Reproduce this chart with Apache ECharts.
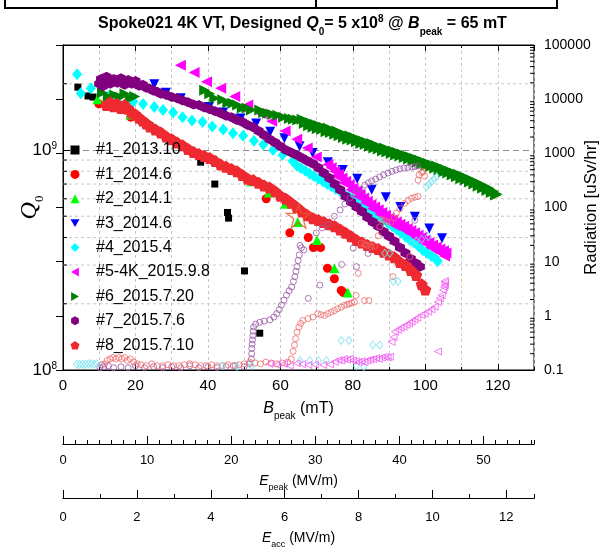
<!DOCTYPE html>
<html>
<head>
<meta charset="utf-8">
<script src="https://cdn.jsdelivr.net/npm/echarts@6/dist/echarts.min.js"></script>
<style>
html,body{margin:0;padding:0;background:#fff}
#main{width:605px;height:548px}
</style>
</head>
<body>
<div id="main"></div>
<script>
// Q0 vs Bpeak (mT) for each test
var s1_2013_10 = [[4.1,1.93e9],[6.9,1.76e9],[8.3,1.74e9],[24.0,1.29e9],[26.7,1.21e9],[35.8,9.8e8],[38.0,8.8e8],[41.9,7.0e8],[45.4,5.2e8],[45.7,4.9e8],[50.1,2.82e8],[54.3,1.47e8]];
var s1_2014_6 = [[9.9,1.62e9],[18.7,1.41e9],[56.1,6.0e8],[62.6,4.2e8],[67.7,4.0e8],[69.1,3.6e8],[71.1,3.6e8],[73.0,2.9e8],[74.9,2.6e8],[76.8,2.3e8],[77.4,2.25e8]];
var s2_2014_1 = [[9.5,1.70e9],[18.7,1.45e9],[42.3,9.0e8],[46.8,8.1e8],[52.0,7.2e8],[56.8,6.4e8],[61.3,5.7e8],[64.8,4.7e8],[70.1,3.9e8],[74.9,2.9e8],[78.6,2.25e8]];
var s3_2014_6 = [[25.2,1.99e9],[28.4,1.82e9],[32.5,1.72e9],[40.3,1.57e9],[44.2,1.48e9],[49.0,1.39e9],[53.3,1.32e9],[57.2,1.21e9],[61.1,1.13e9],[65.3,1.04e9],[68.9,9.7e8],[73.1,8.8e8],[77.2,8.1e8],[81.2,7.4e8],[85.2,6.6e8],[89.1,6.1e8],[93.1,5.5e8],[97.1,4.97e8],[101.1,4.4e8],[104.6,3.97e8]];
var s4_2015_4 = [[3.9,2.21e9],[4.9,1.81e9],[7.7,1.91e9],[12.6,1.76e9],[15.2,1.72e9],[19.4,1.66e9],[22.1,1.62e9],[25.2,1.57e9],[27.6,1.52e9],[30.4,1.48e9],[33.0,1.41e9],[35.6,1.36e9],[38.5,1.34e9],[41.2,1.28e9],[44.2,1.24e9],[46.9,1.19e9],[49.7,1.16e9],[52.7,1.10e9],[55.3,1.06e9],[58.0,1.0e9],[60.6,9.5e8],[63.4,8.9e8],
  [64.5,8.5e8],[65.7,8.25e8],[66.9,8.05e8],[68.1,7.8e8],[69.3,7.6e8],[70.5,7.4e8],[71.7,7.2e8],[72.9,7.0e8],[74.1,6.85e8],[75.3,6.65e8],[76.5,6.5e8],[77.7,6.3e8],[78.9,6.15e8],[80.1,5.95e8],[81.3,5.8e8],[82.5,5.6e8],[83.7,5.45e8],[84.9,5.3e8],[86.1,5.1e8],[87.3,4.95e8],[88.5,4.8e8],[89.7,4.65e8],[90.9,4.5e8],[92.1,4.35e8],[93.3,4.2e8],[94.5,4.05e8],[95.7,3.9e8],[96.9,3.8e8],[98.1,3.65e8],[99.3,3.5e8],[100.5,3.4e8],[101.7,3.3e8],[102.9,3.2e8],[103.4,3.12e8]];
var s5_2015_9_8 = [[32.4,2.43e9],[36.2,2.25e9],[39.6,2.04e9],[43.5,1.91e9],[47.4,1.75e9],[51.0,1.60e9],[54.7,1.46e9],[57.6,1.35e9],[61.3,1.22e9],[64.5,1.12e9],[67.4,1.02e9],[69.9,9.3e8],[73.1,8.6e8],
  [74,8.3e8],[75,8.0e8],[76,7.75e8],[77,7.45e8],[78,7.2e8],[79,6.95e8],[80,6.7e8],[81,6.5e8],[82,6.3e8],[83,6.05e8],[84,5.85e8],[85,5.65e8],[86,5.5e8],[87,5.35e8],[88,5.2e8],[89,5.05e8],[90,4.9e8],[91,4.8e8],[92,4.7e8],[93,4.6e8],[94,4.5e8],[95,4.4e8],[96,4.3e8],[97,4.2e8],[98,4.1e8],[99,4.0e8],[100,3.9e8],[101,3.8e8],[102,3.7e8],[103,3.62e8],[104,3.55e8],[105,3.48e8],[105.7,3.4e8],
  [75.5,7.6e8],[77.5,7.1e8],[79.5,6.6e8],[81.5,6.15e8],[83.5,5.75e8],[85.5,5.4e8],[87.5,5.1e8],[89.5,4.8e8],[91.5,4.55e8],[93.5,4.4e8],[95.5,4.2e8],[97.5,4.0e8],[99.5,3.8e8],[101.5,3.6e8],[103.5,3.45e8],[105.3,3.3e8]];
var s6_2015_7_20 = [[10.9,1.82e9],[12.5,1.75e9],[14.3,1.78e9],[15.8,1.74e9],[17.1,1.80e9],[18.6,1.72e9],[19.8,1.75e9],
  [39.1,1.87e9],[40.5,1.80e9],[41.9,1.72e9],[44.1,1.69e9],[45.5,1.64e9],[46.9,1.63e9],[48.2,1.60e9],[49.5,1.55e9],[50.8,1.55e9],[52.0,1.52e9],[54.3,1.52e9],[55.4,1.48e9],[56.5,1.47e9],[57.9,1.45e9],[59.3,1.44e9],[60.9,1.41e9],[62.5,1.39e9],[63.6,1.38e9],[64.8,1.37e9],
  [66,1.38e9],[66.6,1.32e9],[67.2,1.35e9],[67.8,1.29e9],[68.4,1.33e9],[69,1.27e9],[69.6,1.31e9],[70.2,1.25e9],[70.8,1.29e9],[71.4,1.24e9],[72,1.27e9],[72.6,1.21e9],[73.2,1.26e9],[73.8,1.2e9],[74.4,1.23e9],[75,1.18e9],[75.6,1.22e9],[76.2,1.16e9],[76.8,1.19e9],[77.4,1.14e9],[78,1.17e9],[78.6,1.12e9],[79.2,1.16e9],[79.8,1.11e9],[80.4,1.14e9],[81,1.09e9],[81.6,1.12e9],[82.2,1.07e9],[82.8,1.10e9],[83.4,1.06e9],[84,1.08e9],[84.6,1.04e9],[85.2,1.07e9],[85.8,1.02e9],[86.4,1.05e9],[87,1.01e9],[87.6,1.03e9],[88.2,9.9e8],[88.8,1.02e9],[89.4,9.8e8],[90,1.0e9],[90.6,9.65e8],[91.2,9.9e8],[91.8,9.5e8],[92.4,9.75e8],[93,9.4e8],[93.6,9.6e8],[94.2,9.25e8],[94.8,9.45e8],[95.4,9.1e8],[96,9.3e8],[96.6,8.95e8],[97.2,9.15e8],[97.8,8.8e8],[98.4,9.0e8],[99,8.65e8],[99.6,8.85e8],[100.2,8.5e8],[100.8,8.7e8],[101.4,8.4e8],[102,8.55e8],[102.6,8.25e8],[103.2,8.45e8],[103.8,8.1e8],[104.4,8.3e8],[105,7.95e8],[105.6,8.15e8],[106.2,7.85e8],[106.8,8.0e8],[107.4,7.7e8],[108,7.85e8],[108.6,7.55e8],[109.2,7.75e8],[109.8,7.4e8],[110.4,7.6e8],[111,7.3e8],[111.6,7.45e8],[112.2,7.15e8],[112.8,7.3e8],[113.4,7.0e8],[114,7.15e8],[114.6,6.85e8],[115.2,7.0e8],[115.8,6.7e8],[116.4,6.85e8],[117,6.55e8],[117.6,6.7e8],[118.2,6.4e8],[118.8,6.5e8],[119.4,6.25e8],[119.8,6.3e8]];
var s7_2015_7_6 = [[10,2.0e9],[10.5,2.1e9],[11,1.95e9],[11.5,2.05e9],[12,2.15e9],[13,2.0e9],[14,2.1e9],[15,2.02e9],[16,2.12e9],[17,1.98e9],[18,2.08e9],[19,2.0e9],[20,2.06e9],[21,1.96e9],[22,1.98e9],[23,1.92e9],[24,1.9e9],[25,1.86e9],[26,1.84e9],[27,1.8e9],[28.5,1.78e9],[30,1.74e9],[31.5,1.72e9],[33,1.68e9],[34.5,1.65e9],[36,1.61e9],[37.5,1.6e9],[39,1.56e9],[40.5,1.53e9],[42,1.5e9],[43.5,1.47e9],[45,1.43e9],[46.5,1.41e9],[48,1.37e9],[49.5,1.34e9],[51,1.3e9],[52.5,1.27e9],[54,1.22e9],[55.5,1.17e9],[57,1.12e9],[58.5,1.08e9],[60,1.04e9],[61.5,1.0e9],[63,9.75e8],[64.5,9.5e8],[66,9.2e8],[67.5,8.9e8],[69,8.65e8],[70.5,8.3e8],[72,7.85e8],[73.5,7.45e8],[75,7.0e8],[76.5,6.6e8],[78,6.15e8],[79.5,5.8e8],[81,5.5e8],[82.5,5.25e8],[84,4.95e8],[85.5,4.7e8],[87,4.5e8],[88.5,4.25e8],[90,4.05e8],[91.5,3.85e8],[93,3.6e8],[94.5,3.4e8],[96,3.2e8],[97.5,3.05e8],[98.5,2.95e8]];
var s8_2015_7_10 = [[12,1.6e9],[13,1.65e9],[14,1.58e9],[15,1.62e9],[16,1.55e9],[17,1.6e9],[18,1.54e9],[19,1.48e9],[20,1.45e9],[21,1.4e9],[22,1.36e9],[23,1.32e9],[24,1.28e9],[25.5,1.24e9],[27,1.2e9],[28.5,1.15e9],[30,1.12e9],[31.5,1.08e9],[33,1.05e9],[34.5,1.01e9],[36,9.8e8],[37.5,9.6e8],[39,9.4e8],[40.5,9.2e8],[42,8.9e8],[43.5,8.6e8],[45,8.4e8],[46.5,8.2e8],[48,8.0e8],[49.5,7.7e8],[51,7.4e8],[52.5,7.3e8],[54,7.1e8],[55.5,6.9e8],[57,6.75e8],[58.5,6.5e8],[60,6.2e8],[61.5,6.0e8],[63,5.75e8],[64.5,5.5e8],[66,5.25e8],[67.5,5.05e8],[69,4.9e8],[70.5,4.8e8],[72,4.7e8],[73.5,4.6e8],[75,4.5e8],[76.5,4.35e8],[78,4.2e8],[79.5,4.05e8],[81,3.9e8],[82.5,3.8e8],[84,3.7e8],[85.5,3.62e8],[87,3.55e8],[88.5,3.45e8],[90,3.35e8],[91.5,3.25e8],[93,3.1e8],[94.5,3.0e8],[96,2.85e8],[97.5,2.7e8],[99,2.45e8],[100,2.32e8]];
var designPoint = [[65,5e8]];

// radiation (uSv/hr) vs Bpeak (mT)
var r7_2015_7_6 = [[10.2,0.11],[10.6,0.125],[11.2,0.115],[12.5,0.12],[14,0.11],[16,0.115],[18,0.11],[20,0.12],[22.5,0.11],[25,0.115],[27.5,0.11],[30,0.115],[32.5,0.11],[35,0.12],[37.5,0.11],[40,0.115],[42.5,0.11],[45,0.115],[47.5,0.12],[50,0.115],[51.5,0.13],
  [52,0.16],[52.1,0.2],[52.1,0.25],[52.2,0.3],[52.3,0.36],[52.4,0.43],[52.5,0.52],[52.6,0.62],[53.2,0.7],[54.3,0.76],[55.5,0.8],[57.1,0.84],[58.2,0.95],[59,1.1],[59.7,1.3],[60.3,1.58],[61,1.95],[61.7,2.4],[62.4,2.9],[63.1,3.4],[63.6,4.3],[64,5.3],[64.3,6.6],[64.6,8.1],[64.9,10.5],[65.2,13.3],[65.4,20],
  [65.8,18],[66.5,16.5],[67.7,2.1],[70.9,3.7],[76.9,8.9],[81,8.1],[80.1,17.8],[84.2,14.2],[97.1,58],
  [69.9,34],[71.5,42],[73.1,49],[74.9,69],[76.5,90],[77.8,116],[79.2,150],[80.6,185],[81.9,219],[83.3,260],[84.3,285],[85.2,308],[86.3,335],[87.4,366],[88.5,400],[89.7,433],[90.8,465],[91.9,492],[93,515],[94.1,536],[95.2,548],[96.3,559],[97.1,570],[97.9,583]];
var r8_2015_7_10 = [[11.5,0.13],[12.2,0.15],[13,0.16],[13.8,0.17],[14.6,0.16],[15.4,0.17],[16.2,0.16],[17,0.17],[17.8,0.15],[18.6,0.16],[19.5,0.14],[20.5,0.13],[21.5,0.125],[23,0.12],[24.5,0.13],[26,0.12],[27.5,0.12],[29,0.125],[30.5,0.12],[32,0.12],[33.5,0.125],[35,0.13],[36.5,0.125],[38,0.12],[39.5,0.12],[41,0.125],[42.5,0.12],[44,0.12],[45.5,0.125],[47,0.12],[48.5,0.125],[50,0.13],[51.5,0.14],[53,0.135],[54.5,0.13],[56,0.14],[57.5,0.135],[59,0.13],[60.5,0.135],[62,0.14],[63,0.16],
  [63.5,0.22],[63.9,0.29],[64.2,0.38],[64.6,0.5],[65.1,0.62],[65.6,0.72],[66.2,0.82],[67.6,0.89],[69,0.95],[70.3,1.09],[71.2,1.05],[72.2,1.02],[73.1,1.1],[74,1.17],[74.9,1.25],[75.8,1.35],[76.8,1.45],[77.7,1.56],[78.4,1.62],[79,1.67],[79.7,1.72],[80.4,1.8],[80.9,2.38],[83.2,1.92],[84.4,1.92],
  [81.5,6.1],[82.3,22],[83.2,21],[84,20],[85,19],[86,19.5],[87,30],[87.4,44],[87.8,60],[88.6,58],[89.4,55],[90.5,53],[91.4,65],[92,78],[93,95],[94.3,119],[95.2,135],[96.2,148],[97.1,155],[98,160],[98,320],[98.3,400],[99,440],[99.4,460],[99.8,380],[91.1,5.3],[95.7,12.3]];
var r4_2015_4 = [[3.8,0.127],[4.6,0.127],[5.4,0.127],[6.2,0.127],[7,0.13],[7.8,0.13],[8.6,0.127],[9.3,0.13],[44,0.12],[48,0.115],[52,0.12],[65.4,0.15],[68.1,0.15],[70.5,0.15],[72.7,0.15],[81,0.12],[83,0.115],
  [76.8,0.35],[78.9,0.35],[85.5,0.29],[87.4,0.29],[91.1,4.3],[92.5,4.3],[88.8,14.3],[90.2,14.3],[96.2,21.8],[97.5,24],[99,26],[100.8,29],[100.3,242],[101,270],[101.7,299],[102.4,335],[103.1,370]];
var r5_2015_9_8 = [[57,0.13],[59,0.125],[61,0.13],[62.6,0.12],[64.5,0.133],[66,0.128],[67.7,0.124],[69.5,0.127],[71.8,0.124],[73.7,0.127],[75,0.142],[76,0.153],[76.8,0.15],[77.6,0.16],[78.4,0.155],[79.2,0.16],[80,0.15],[80.8,0.145],[81.6,0.14],[82.4,0.145],[83.2,0.14],[84,0.15],[84.8,0.155],[85.6,0.16],[86.4,0.165],[87.2,0.16],[88,0.17],[88.8,0.175],[89.6,0.17],[90.2,0.176],
  [90.7,0.33],[91.2,0.4],[91.6,0.51],[92.4,0.55],[93.2,0.6],[94,0.63],[94.8,0.68],[95.5,0.73],[96.2,0.78],[97,0.85],[97.8,0.92],[98.9,1.03],[99.8,1.1],[100.8,1.19],[101.7,1.32],[102.6,1.47],[103.5,1.8],[104,2.1],[104.5,2.4],[104.9,3.0],[105.2,3.4],[105.4,3.7],[105.4,4.1],[105.4,4.4],[103.5,0.22]];

// axis ticks
var q0MinorTicks = [2e8,3e8,4e8,5e8,6e8,7e8,8e8,9e8,2e9];
var radMinorTicks = [];
[0.1,1,10,100,1000,10000].forEach(function (d) {
  for (var k = 2; k <= 9; k++) radMinorTicks.push(d * k);
});

var FONT = 'Liberation Sans';
var HEX = 'path://M0,-10L8.66,-5L8.66,5L0,10L-8.66,5L-8.66,-5Z';
var PENT = 'path://M0,-10L9.51,-3.09L5.88,8.09L-5.88,8.09L-9.51,-3.09Z';
var STAR = 'path://M0,-10L2.245,-3.09L9.51,-3.09L3.633,1.18L5.878,8.09L0,3.82L-5.878,8.09L-3.633,1.18L-9.51,-3.09L-2.245,-3.09Z';
var TRI_DOWN = 'path://M-10,-8.66L10,-8.66L0,8.66Z';
var TRI_LEFT = 'path://M-8.66,0L8.66,-10L8.66,10Z';
var TRI_RIGHT = 'path://M8.66,0L-8.66,-10L-8.66,10Z';

var myChart = echarts.init(document.getElementById('main'));

function filled(name, data, symbol, size, color) {
  return {
    name: name, type: 'scatter', xAxisIndex: 0, yAxisIndex: 0,
    data: data, symbol: symbol, symbolSize: size,
    itemStyle: { color: color, opacity: 1 }, silent: true
  };
}
function open(name, data, symbol, size, color) {
  return {
    name: name, type: 'scatter', xAxisIndex: 0, yAxisIndex: 1,
    data: data, symbol: symbol, symbolSize: size,
    itemStyle: { color: 'rgba(255,255,255,0)', borderColor: color, borderWidth: 1 }, silent: true
  };
}

var nameRich = {
  i: { fontFamily: FONT, fontStyle: 'italic', fontSize: 16, color: '#000' },
  s: { fontFamily: FONT, fontSize: 10, color: '#000', verticalAlign: 'bottom', lineHeight: 25 },
  n: { fontFamily: FONT, fontSize: 16, color: '#000' }
};
var smallRich = {
  i: { fontFamily: FONT, fontStyle: 'italic', fontSize: 14, color: '#000' },
  s: { fontFamily: FONT, fontSize: 9, color: '#000', verticalAlign: 'bottom', lineHeight: 22 },
  n: { fontFamily: FONT, fontSize: 14, color: '#000' }
};

function xAx(grid, pos, max, interval, len, extra) {
  var a = {
    type: 'value', gridIndex: grid, position: pos, min: 0, max: max, interval: interval,
    axisLine: { show: true, onZero: false, lineStyle: { color: '#000', width: 1 } },
    axisTick: { show: true, inside: true, length: len, lineStyle: { color: '#000' } },
    axisLabel: { show: false },
    splitLine: { show: false }
  };
  for (var k in extra) a[k] = extra[k];
  return a;
}

var option = {
  animation: false,
  backgroundColor: '#fff',
  title: {
    left: 'center', top: 6,
    text: '{t|Spoke021 4K VT, Designed }{q|Q}{s|0}{t|= 5 x10}{p|8}{t| @ }{q|B}{s|peak}{t| = 65 mT}',
    textStyle: {
      rich: {
        t: { fontFamily: FONT, fontWeight: 'bold', fontSize: 16, color: '#000' },
        q: { fontFamily: FONT, fontWeight: 'bold', fontStyle: 'italic', fontSize: 16, color: '#000' },
        s: { fontFamily: FONT, fontWeight: 'bold', fontSize: 10, color: '#000', verticalAlign: 'bottom', lineHeight: 26 },
        p: { fontFamily: FONT, fontWeight: 'bold', fontSize: 10, color: '#000', verticalAlign: 'top', padding: [3, 0, 0, 0] }
      }
    }
  },
  graphic: [
    { type: 'polyline', shape: { points: [[5, 0], [5, 8], [557, 8], [557, 0]] }, style: { stroke: '#000', lineWidth: 2, fill: null } },
    { type: 'line', shape: { x1: 316, y1: 0, x2: 316, y2: 8 }, style: { stroke: '#000', lineWidth: 2 } }
  ],
  legend: {
    orient: 'vertical', left: 65.5, top: 137,
    itemWidth: 9, itemHeight: 9, itemGap: 8.4,
    selectedMode: false,
    textStyle: { fontFamily: FONT, fontSize: 16, color: '#000', lineHeight: 16, padding: [0, 0, 0, 11.5] },
    data: ['#1_2013.10', '#1_2014.6', '#2_2014.1', '#3_2014.6', '#4_2015.4', '#5-4K_2015.9.8', '#6_2015.7.20', '#7_2015.7.6', '#8_2015.7.10']
  },
  grid: [
    { left: 63, top: 45, width: 471, height: 325, outerBoundsMode: 'none', containLabel: false, show: true, borderColor: '#000', borderWidth: 1, backgroundColor: 'transparent' },
    { left: 63, top: 443, width: 471, height: 1, outerBoundsMode: 'none', containLabel: false },
    { left: 63, top: 497, width: 471, height: 1, outerBoundsMode: 'none', containLabel: false }
  ],
  xAxis: [
    xAx(0, 'bottom', 130, 20, 6, {
      axisLabel: { show: true, fontFamily: FONT, fontSize: 15, color: '#000', margin: 8, showMaxLabel: false },
      name: '{i|B}{s|peak}{n| (mT)}', nameLocation: 'middle', nameGap: 26,
      nameTextStyle: { rich: nameRich }
    }),
    xAx(0, 'bottom', 130, 10, 3, {
      splitLine: { show: true, lineStyle: { color: '#c8c8c8', type: [3, 3], width: 1 } }
    }),
    xAx(0, 'top', 130, 20, 6, {}),
    xAx(0, 'top', 130, 10, 3, {}),
    xAx(1, 'bottom', 56, 10, 8, {
      axisLabel: { show: true, fontFamily: FONT, fontSize: 13, color: '#000', margin: 10, showMaxLabel: false },
      name: '{i|E}{s|peak}{n| (MV/m)}', nameLocation: 'middle', nameGap: 26,
      nameTextStyle: { rich: smallRich }
    }),
    xAx(1, 'bottom', 56, 10 / 7, 4, {}),
    xAx(2, 'bottom', 12.75, 2, 8, {
      axisLabel: { show: true, fontFamily: FONT, fontSize: 13, color: '#000', margin: 13, showMaxLabel: false },
      name: '{i|E}{s|acc}{n| (MV/m)}', nameLocation: 'middle', nameGap: 29,
      nameTextStyle: { rich: smallRich }
    }),
    xAx(2, 'bottom', 12.75, 1, 4, {})
  ],
  yAxis: [
    {
      type: 'log', logBase: 10, gridIndex: 0, position: 'left', min: 1e8, max: 3e9,
      axisLine: { show: true, lineStyle: { color: '#000' } },
      axisTick: { show: true, inside: true, length: 7, lineStyle: { color: '#000' } },
      axisLabel: {
        fontFamily: FONT, color: '#000', margin: 6,
        formatter: function (v) {
          var l = Math.log10(v), e = Math.round(l);
          if (Math.abs(l - e) > 1e-6) return '';
          return '{b|10}{e|' + e + '}';
        },
        rich: {
          b: { fontFamily: FONT, fontSize: 17, color: '#000', lineHeight: 18 },
          e: { fontFamily: FONT, fontSize: 10, color: '#000', verticalAlign: 'top' }
        }
      },
      splitLine: { show: true, lineStyle: { color: '#8a8a8a', type: [6, 4], width: 1 } },
      name: '{q|Q}{z|0}', nameLocation: 'middle', nameRotate: 90, nameGap: 17, nameMoveOverlap: false,
      nameTextStyle: {
        rich: {
          q: { fontFamily: 'Liberation Serif', fontStyle: 'italic', fontSize: 24, color: '#000' },
          z: { fontFamily: 'Liberation Serif', fontSize: 13, color: '#000', verticalAlign: 'bottom', lineHeight: 32 }
        }
      }
    },
    {
      type: 'log', logBase: 10, gridIndex: 0, position: 'right', min: 0.1, max: 1e5,
      axisLine: { show: true, lineStyle: { color: '#000' } },
      axisTick: { show: true, inside: true, length: 7, lineStyle: { color: '#000' } },
      axisLabel: {
        fontFamily: FONT, fontSize: 14, color: '#000', margin: 10,
        formatter: function (v) {
          var e = Math.round(Math.log10(v));
          return Number(Math.pow(10, e).toFixed(Math.max(0, -e))).toString();
        }
      },
      splitLine: { show: false },
      name: 'Radiation [uSv/hr]', nameLocation: 'middle', nameRotate: 90, nameGap: 49, nameMoveOverlap: false,
      nameTextStyle: { fontFamily: FONT, fontSize: 17, color: '#000' }
    },
    { type: 'value', gridIndex: 1, min: 0, max: 1, show: false },
    { type: 'value', gridIndex: 2, min: 0, max: 1, show: false }
  ],
  series: [
    {
      type: 'custom', xAxisIndex: 0, yAxisIndex: 0, z: 1, silent: true,
      data: q0MinorTicks.map(function (v) { return [0, v]; }),
      renderItem: function (params, api) {
        var a = api.coord([0, api.value(1)]);
        var b = api.coord([130, api.value(1)]);
        return { type: 'group', children: [
          { type: 'line', shape: { x1: a[0], y1: a[1], x2: b[0], y2: b[1] }, style: { stroke: '#c8c8c8', lineWidth: 1, lineDash: [3, 3] } },
          { type: 'line', shape: { x1: a[0], y1: a[1], x2: a[0] + 4, y2: a[1] }, style: { stroke: '#000', lineWidth: 1 } }
        ] };
      }
    },
    {
      type: 'custom', xAxisIndex: 0, yAxisIndex: 1, z: 1, silent: true,
      data: radMinorTicks.map(function (v) { return [130, v]; }),
      renderItem: function (params, api) {
        var b = api.coord([130, api.value(1)]);
        return { type: 'line', shape: { x1: b[0] - 4, y1: b[1], x2: b[0], y2: b[1] }, style: { stroke: '#000', lineWidth: 1 } };
      }
    },
    filled('#1_2013.10', s1_2013_10, 'rect', 7, '#000000'),
    filled('#1_2014.6', s1_2014_6, 'circle', 9, '#ff0000'),
    filled('#2_2014.1', s2_2014_1, 'triangle', 10, '#00ff00'),
    filled('#3_2014.6', s3_2014_6, TRI_DOWN, 10, '#0000ff'),
    filled('#4_2015.4', s4_2015_4, 'diamond', [10, 12], '#00ffff'),
    filled('#5-4K_2015.9.8', s5_2015_9_8, TRI_LEFT, 11, '#ff00ff'),
    filled('#6_2015.7.20', s6_2015_7_20, TRI_RIGHT, 11, '#008000'),
    filled('#7_2015.7.6', s7_2015_7_6, HEX, 10, '#800080'),
    filled('#8_2015.7.10', s8_2015_7_10, PENT, 12, '#ee2a30'),
    open('rad7', r7_2015_7_6, 'circle', 6, '#9a55a6'),
    open('rad8', r8_2015_7_10, 'circle', 6, '#f06a6a'),
    open('rad4', r4_2015_4, 'diamond', [6, 8], '#78e2ee'),
    open('rad5', r5_2015_9_8, TRI_LEFT, 7, '#f25af2'),
    {
      name: 'design', type: 'scatter', xAxisIndex: 0, yAxisIndex: 0, silent: true,
      data: designPoint, symbol: STAR, symbolSize: 24,
      itemStyle: { color: 'rgba(255,255,255,0)', borderColor: '#e8562a', borderWidth: 1.3 }
    }
  ]
};

myChart.setOption(option);
</script>
</body>
</html>
